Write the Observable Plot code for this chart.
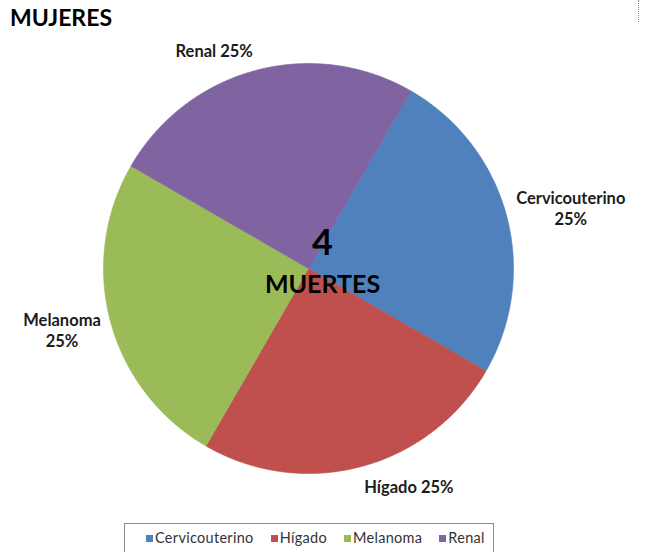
<!DOCTYPE html>
<html>
<head>
<meta charset="utf-8">
<script src="https://cdn.jsdelivr.net/npm/d3@7"></script>
<script src="https://cdn.jsdelivr.net/npm/@observablehq/plot@0.6"></script>
<style>
  body { margin: 0; background: #fff; }
  #wrap { position: relative; width: 647px; height: 552px; overflow: hidden; font-family: Lato, "Open Sans", sans-serif; }
  #chart { position: absolute; left: 0; top: 0; }
  #title { position: absolute; left: 10px; top: 6px; font-weight: bold; font-size: 23px; line-height: 23px; color: #000; }
  #cursor { position: absolute; left: 638px; top: 0; height: 22px; border-left: 1px dotted #5b8fd6; }
  #legend { position: absolute; left: 124px; top: 523px; width: 370px; height: 40px; box-sizing: border-box;
            border: 1px solid #8c8c8c; background: #fff; display: flex; align-items: flex-start; gap: 17px;
            padding: 6px 0 0 21px; font-size: 14.5px; letter-spacing: 0.3px; line-height: 16px; color: #333; }
  #legend .item { display: flex; align-items: center; gap: 2px; white-space: nowrap; height: 16px; }
  #legend .sw { width: 7px; height: 7px; display: inline-block; }
</style>
</head>
<body>
<div id="wrap">
  <div id="chart"></div>
  <div id="title">MUJERES</div>
  <div id="cursor"></div>
  <div id="legend"></div>
</div>
<script>
// ---- data ----
const categories = ["Cervicouterino", "Hígado", "Melanoma", "Renal"];
const deaths = [1, 1, 1, 1];
const colors = ["#4F81BD", "#C0504D", "#9BBB59", "#8064A2"];
const labelLines = [["Cervicouterino", "25%"], ["Hígado 25%"], ["Melanoma", "25%"], ["Renal 25%"]];
const centerWord = "MUERTES";

// ---- geometry (in pie-radius units) ----
const W = 647, H = 552;
const R = 205;             // pie radius in px
const CX = 308, CY = 268;  // pie center in px
const startDeg = 30;       // first slice begins 30° clockwise from 12 o'clock
const total = d3.sum(deaths);

const slices = [];
let acc = 0;
deaths.forEach((v, i) => {
  const a0 = startDeg + acc / total * 360;
  acc += v;
  const a1 = startDeg + acc / total * 360;
  slices.push({cat: categories[i], value: v, a0, a1, pct: v / total});
});

const slicePts = [];
for (const s of slices) {
  slicePts.push({cat: s.cat, x: 0, y: 0});
  const n = Math.max(2, Math.ceil(s.a1 - s.a0));
  for (let k = 0; k <= n; k++) {
    const a = (s.a0 + (s.a1 - s.a0) * k / n) * Math.PI / 180;
    slicePts.push({cat: s.cat, x: Math.sin(a), y: Math.cos(a)});
  }
  slicePts.push({cat: s.cat, x: 0, y: 0});
}

// label placement: outside end, text box edge next to the pie
const ctx = document.createElement("canvas").getContext("2d");
const labelSize = 16.5;
ctx.font = `bold ${labelSize}px Lato`;
const lineH = 21;
const r0 = 215;
const labels = slices.map((s, i) => {
  const lines = labelLines[i];
  const w = d3.max(lines, l => ctx.measureText(l).width);
  const h = lines.length * lineH;
  const am = ((s.a0 + s.a1) / 2) * Math.PI / 180;
  const px = Math.sin(am) * r0 + Math.sign(Math.sin(am)) * w / 2;
  const py = Math.cos(am) * r0 + Math.cos(am) * h / 2;
  return {text: lines.join("\n"), x: px / R, y: py / R};
});

const chart = Plot.plot({
  width: W,
  height: H,
  margin: 0,
  x: {domain: [-CX / R, (W - CX) / R], axis: null},
  y: {domain: [-(H - CY) / R, CY / R], axis: null},
  color: {domain: categories, range: colors},
  marks: [
    Plot.line(slicePts, {x: "x", y: "y", z: "cat", fill: "cat", stroke: "cat", strokeWidth: 0.6, curve: "linear"}),
    Plot.text(labels, {x: "x", y: "y", text: "text", fontFamily: "Lato", fontWeight: "bold", fontSize: labelSize,
                       fill: "#1c1c1c", lineHeight: lineH / labelSize, textAnchor: "middle", lineAnchor: "middle"}),
    Plot.text([String(total)], {x: () => 0, y: () => 0, text: d => d, dx: 14, dy: -25, fontFamily: "Lato",
                       fontWeight: "bold", fontSize: 36, fill: "#000", lineAnchor: "middle"}),
    Plot.text([centerWord], {x: () => 0, y: () => 0, text: d => d, dx: 14, dy: 16, fontFamily: "Lato",
                       fontWeight: "bold", fontSize: 25, fill: "#000", lineAnchor: "middle"})
  ]
});
document.getElementById("chart").appendChild(chart);

// legend
const legend = d3.select("#legend");
categories.forEach((c, i) => {
  const it = legend.append("div").attr("class", "item");
  it.append("span").attr("class", "sw").style("background", colors[i]);
  it.append("span").text(c);
});
</script>
</body>
</html>
